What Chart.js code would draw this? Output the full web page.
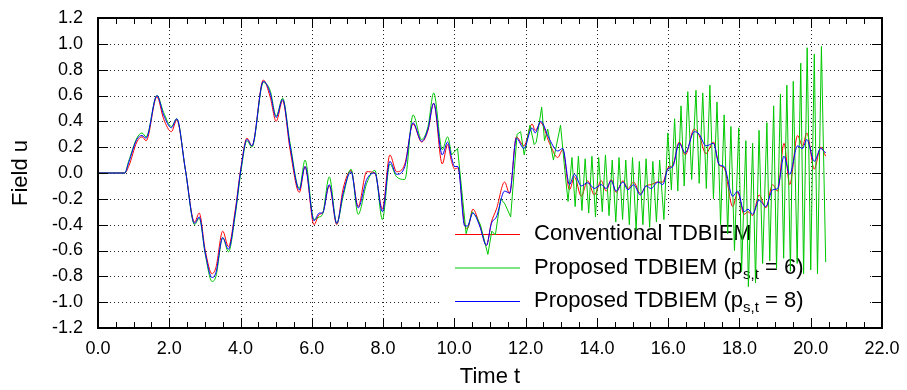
<!DOCTYPE html>
<html>
<head>
<meta charset="utf-8">
<script src="https://cdn.jsdelivr.net/npm/chart.js@4.4.0/dist/chart.umd.min.js"></script>
<style>
  html, body { margin: 0; padding: 0; background: #fff; }
</style>
</head>
<body>
<canvas id="chart" width="907" height="390"></canvas>
<script>
const FONT = '"Liberation Sans", Arial, Helvetica, sans-serif';

// axis ticks
const xTickVals = [0, 2, 4, 6, 8, 10, 12, 14, 16, 18, 20, 22];
const yTickVals = [-1.2, -1.0, -0.8, -0.6, -0.4, -0.2, 0.0, 0.2, 0.4, 0.6, 0.8, 1.0, 1.2];

const seriesNames = [
  "Conventional TDBIEM",
  "Proposed TDBIEM (p_{s,t} = 6)",
  "Proposed TDBIEM (p_{s,t} = 8)"
];
const seriesColors = ["#ff0000", "#00c800", "#0000ff"];

// time samples shared by conventional and p=8 curves
const timeT = [
  0, 0.75, 0.86, 1.09, 1.235, 1.35, 1.655, 1.84, 2.06, 2.21,
  2.45, 2.71, 2.84, 3.01, 3.20, 3.31, 3.50, 3.66, 3.85, 4.01,
  4.18, 4.32, 4.64, 4.83, 5.00, 5.18, 5.39, 5.65, 5.81, 6.06,
  6.21, 6.30, 6.49, 6.70, 6.88, 7.10, 7.30, 7.54, 7.77, 7.98,
  8.19, 8.38, 8.61, 8.84, 9.08, 9.26, 9.42, 9.66, 9.81, 9.92,
  10.01, 10.10, 10.29, 10.37, 10.52, 10.71, 10.90, 11.04, 11.18, 11.41,
  11.55, 11.74, 11.95, 12.18, 12.27, 12.42, 12.67, 12.90, 13.04, 13.23,
  13.37, 13.56, 13.74, 13.93, 14.12, 14.26, 14.40, 14.54, 14.73, 14.87,
  15.03, 15.22, 15.38, 15.52, 15.71, 15.85, 15.99, 16.13, 16.31, 16.48,
  16.73, 16.87, 17.06, 17.27, 17.43, 17.57, 17.81, 17.95, 18.13, 18.24,
  18.37, 18.55, 18.74, 18.93, 19.07, 19.25, 19.41, 19.63, 19.77, 19.89,
  20.10, 20.28, 20.42
];

// proposed, p = 8 (blue)
const p8U = [
  0, 0, 0.08, 0.26, 0.29, 0.27, 0.60, 0.45, 0.35, 0.42,
  0.03, -0.39, -0.34, -0.62, -0.81, -0.77, -0.50, -0.59, -0.31, 0.03,
  0.26, 0.21, 0.71, 0.62, 0.43, 0.57, 0.21, -0.13, 0.05, -0.37,
  -0.31, -0.31, -0.09, -0.39, -0.155, 0.01, -0.27, -0.05, 0.0, -0.30,
  0.09, -0.01, 0.05, 0.39, 0.245, 0.34, 0.54, 0.14, 0.24, 0.12,
  0.05, 0.05, -0.41, -0.41, -0.31, -0.41, -0.56, -0.39, -0.34, -0.14,
  -0.155, 0.27, 0.19, 0.35, 0.31, 0.40, 0.26, 0.17, 0.19, -0.09,
  -0.01, -0.10, -0.075, -0.12, -0.09, -0.12, -0.06, -0.14, -0.07, -0.13,
  -0.09, -0.17, -0.10, -0.12, -0.07, -0.09, 0.03, 0.05, 0.23, 0.155,
  0.32, 0.30, 0.21, 0.23, 0.065, 0.05, -0.18, -0.14, -0.30, -0.28,
  -0.32, -0.21, -0.26, -0.13, -0.12, 0.13, -0.01, 0.21, 0.19, 0.26,
  0.09, 0.19, 0.155
];

// conventional (red)
const convU = [
  0, 0, 0.05, 0.24, 0.28, 0.25, 0.59, 0.42, 0.32, 0.41,
  0.03, -0.38, -0.31, -0.60, -0.78, -0.73, -0.45, -0.57, -0.29, 0.04,
  0.27, 0.21, 0.72, 0.59, 0.40, 0.56, 0.18, -0.15, 0.05, -0.40,
  -0.32, -0.31, -0.10, -0.40, -0.12, 0.02, -0.26, 0.01, 0.0, -0.28,
  0.14, 0.01, 0.07, 0.38, 0.24, 0.33, 0.54, 0.07, 0.22, 0.09,
  0.03, 0.04, -0.40, -0.43, -0.28, -0.40, -0.56, -0.38, -0.28, -0.07,
  -0.16, 0.28, 0.21, 0.38, 0.33, 0.39, 0.23, 0.12, 0.18, -0.13,
  -0.03, -0.18, -0.06, -0.17, -0.06, -0.14, -0.05, -0.15, -0.06, -0.12,
  -0.07, -0.16, -0.10, -0.09, -0.07, -0.07, 0.04, 0.06, 0.24, 0.14,
  0.34, 0.29, 0.15, 0.24, 0.06, 0.04, -0.26, -0.15, -0.32, -0.30,
  -0.33, -0.17, -0.27, -0.09, -0.14, 0.23, -0.09, 0.29, 0.21, 0.31,
  0.03, 0.20, 0.13
];

// proposed, p = 6 (green): smooth early part on the shared times
const p6EarlyU = [
  0, 0, 0.09, 0.27, 0.31, 0.28, 0.60, 0.47, 0.36, 0.42,
  0.03, -0.40, -0.35, -0.63, -0.84, -0.80, -0.50, -0.61, -0.33, 0.01,
  0.25, 0.20, 0.70, 0.64, 0.44, 0.58, 0.23, -0.12, 0.10, -0.36,
  -0.34, -0.32, -0.03, -0.39, -0.18, 0.03, -0.32, -0.08, 0.02, -0.36,
  0.07, -0.03, -0.05, 0.45, 0.26, 0.36, 0.62, 0.18, 0.28, 0.14
];
const p6EarlyT = timeT.slice(0, p6EarlyU.length);

// proposed, p = 6 (green): oscillating later part
const p6LateT = [
  9.92, 10.09, 10.33, 10.50, 10.62, 10.73, 10.94, 11.05, 11.15, 11.30,
  11.42, 11.58, 11.76, 11.86, 11.96, 12.12, 12.24, 12.30, 12.45, 12.53,
  12.62, 12.78, 12.98, 13.10, 13.19, 13.30, 13.39, 13.48, 13.58, 13.67,
  13.77, 13.86, 13.96, 14.05, 14.15, 14.24, 14.34, 14.43, 14.53, 14.62,
  14.72, 14.81, 14.91, 15.00, 15.10, 15.19, 15.29, 15.38, 15.48, 15.57,
  15.67, 15.76, 15.88, 15.99, 16.09, 16.18, 16.27, 16.36, 16.45, 16.55,
  16.66, 16.78, 16.87, 16.97, 17.07, 17.17, 17.27, 17.37, 17.47, 17.57,
  17.67, 17.76, 17.86, 17.98, 18.06, 18.18, 18.25, 18.37, 18.45, 18.55,
  18.65, 18.77, 18.85, 18.96, 19.04, 19.15, 19.24, 19.33, 19.43, 19.51,
  19.62, 19.72, 19.80, 19.90, 20.00, 20.10, 20.19, 20.30, 20.42
];
const p6LateU = [
  0.14, 0.19, -0.47, -0.30, -0.34, -0.40, -0.63, -0.45, -0.48, -0.20,
  -0.24, -0.34, 0.30, 0.32, 0.14, 0.37, 0.22, 0.24, 0.51, 0.25,
  0.34, 0.10, 0.37, 0.02, -0.22, 0.12, -0.26, 0.13, -0.29, 0.11,
  -0.31, 0.13, -0.34, 0.12, -0.30, 0.14, -0.33, 0.10, -0.38, 0.12,
  -0.36, 0.10, -0.40, 0.12, -0.44, 0.09, -0.40, 0.11, -0.42, 0.09,
  -0.38, 0.10, -0.36, 0.31, -0.13, 0.42, -0.14, 0.52, -0.10, 0.63,
  -0.05, 0.64, -0.08, 0.62, -0.12, 0.68, -0.20, 0.55, -0.40, 0.45,
  -0.47, 0.36, -0.60, 0.35, -0.76, 0.25, -0.88, 0.23, -0.85, 0.33,
  -0.70, 0.39, -0.68, 0.52, -0.74, 0.61, -0.66, 0.68, -0.76, 0.71,
  -0.70, 0.85, -0.78, 0.97, -0.75, 0.92, -0.78, 0.98, -0.69
];

const pts = (ts, us) => ts.map((t, i) => ({ x: t, y: us[i] }));

// grid, legend box, border and inward ticks (gnuplot look)
const framePlugin = {
  id: "frame",
  beforeDatasetsDraw(chart) {
    const { ctx, chartArea: a, scales: { x, y } } = chart;
    ctx.save();
    ctx.strokeStyle = "#222";
    ctx.lineWidth = 1;
    ctx.setLineDash([1, 3]);
    xTickVals.forEach(v => {
      if (v <= x.min || v >= x.max) return;
      const px = Math.round(x.getPixelForValue(v)) + 0.5;
      ctx.beginPath(); ctx.moveTo(px, a.top); ctx.lineTo(px, a.bottom); ctx.stroke();
    });
    yTickVals.forEach(v => {
      if (v <= y.min + 1e-9 || v >= y.max - 1e-9) return;
      const py = Math.round(y.getPixelForValue(v)) + 0.5;
      ctx.beginPath(); ctx.moveTo(a.left, py); ctx.lineTo(a.right, py); ctx.stroke();
    });
    ctx.setLineDash([]);

    // legend
    const lx = a.left + 342, ly = a.top + 199;
    ctx.fillStyle = "#fff";
    ctx.fillRect(lx, ly, a.right - 14 - lx, a.bottom - 8 - ly);
    seriesNames.forEach((name, i) => {
      const ry = ly + 17 + i * 33.5;
      ctx.strokeStyle = seriesColors[i];
      ctx.lineWidth = 1;
      ctx.beginPath(); ctx.moveTo(lx + 15, ry + 0.5); ctx.lineTo(lx + 80, ry + 0.5); ctx.stroke();
      ctx.fillStyle = "#000";
      ctx.textBaseline = "middle";
      ctx.textAlign = "left";
      let tx = lx + 94;
      const m = name.match(/^(.*)_\{(.*)\}(.*)$/);
      const parts = m ? [[m[1], 0], [m[2], 1], [m[3], 0]] : [[name, 0]];
      parts.forEach(([s, sub]) => {
        ctx.font = (sub ? "15px " : "22px ") + FONT;
        ctx.fillText(s, tx, ry + (sub ? 7 : 0));
        tx += ctx.measureText(s).width;
      });
    });
    ctx.restore();
  },
  afterDatasetsDraw(chart) {
    const { ctx, chartArea: a, scales: { x, y } } = chart;
    ctx.save();
    ctx.strokeStyle = "#000";
    ctx.lineWidth = 1;
    for (let v = x.min + 0.5; v < x.max; v += 0.5) {
      const px = Math.round(x.getPixelForValue(v)) + 0.5;
      const len = (v % 2 === 0) ? 10 : 6;
      ctx.beginPath();
      ctx.moveTo(px, a.top); ctx.lineTo(px, a.top + len);
      ctx.moveTo(px, a.bottom); ctx.lineTo(px, a.bottom - len);
      ctx.stroke();
    }
    yTickVals.forEach(v => {
      if (v <= y.min + 1e-9 || v >= y.max - 1e-9) return;
      const py = Math.round(y.getPixelForValue(v)) + 0.5;
      ctx.beginPath();
      ctx.moveTo(a.left, py); ctx.lineTo(a.left + 10, py);
      ctx.moveTo(a.right, py); ctx.lineTo(a.right - 10, py);
      ctx.stroke();
    });
    ctx.lineWidth = 2;
    ctx.strokeRect(a.left, a.top, a.right - a.left, a.bottom - a.top);
    ctx.restore();
  }
};

new Chart(document.getElementById("chart"), {
  type: "line",
  data: {
    datasets: [
      {
        label: seriesNames[0],
        data: pts(timeT, convU),
        borderColor: seriesColors[0],
        borderWidth: 1,
        cubicInterpolationMode: "monotone",
        order: 4
      },
      {
        label: seriesNames[1],
        data: pts(p6EarlyT, p6EarlyU),
        borderColor: seriesColors[1],
        borderWidth: 1,
        cubicInterpolationMode: "monotone",
        order: 3
      },
      {
        label: seriesNames[1],
        data: pts(p6LateT, p6LateU),
        borderColor: seriesColors[1],
        borderWidth: 1,
        tension: 0,
        order: 3
      },
      {
        label: seriesNames[2],
        data: pts(timeT, p8U),
        borderColor: seriesColors[2],
        borderWidth: 1,
        cubicInterpolationMode: "monotone",
        order: 1
      }
    ]
  },
  options: {
    responsive: false,
    animation: false,
    devicePixelRatio: 1,
    layout: { padding: { top: 18, right: 25, left: 0, bottom: 0 } },
    elements: { point: { radius: 0 } },
    plugins: { legend: { display: false }, tooltip: { enabled: false } },
    scales: {
      x: {
        type: "linear",
        min: 0,
        max: 22,
        grid: { display: false },
        border: { display: false },
        afterBuildTicks: s => { s.ticks = xTickVals.map(v => ({ value: v })); },
        afterFit: s => { s.height = 62; },
        ticks: {
          color: "#000",
          font: { family: FONT, size: 18 },
          padding: 2,
          maxRotation: 0,
          autoSkip: false,
          callback: v => Number(v).toFixed(1)
        },
        title: {
          display: true,
          text: "Time t",
          color: "#000",
          font: { family: FONT, size: 22, lineHeight: 1.2 },
          padding: { top: 0, bottom: 0 }
        }
      },
      y: {
        type: "linear",
        min: -1.2,
        max: 1.2,
        grid: { display: false },
        border: { display: false },
        afterBuildTicks: s => { s.ticks = yTickVals.map(v => ({ value: v })); },
        afterFit: s => { s.width = 98; },
        ticks: {
          color: "#000",
          font: { family: FONT, size: 18 },
          padding: 7,
          autoSkip: false,
          callback: v => Number(v).toFixed(1)
        },
        title: {
          display: true,
          text: "Field u",
          color: "#000",
          font: { family: FONT, size: 22, lineHeight: 1.2 },
          padding: { top: 8, bottom: 0 }
        }
      }
    }
  },
  plugins: [framePlugin]
});
</script>
</body>
</html>
